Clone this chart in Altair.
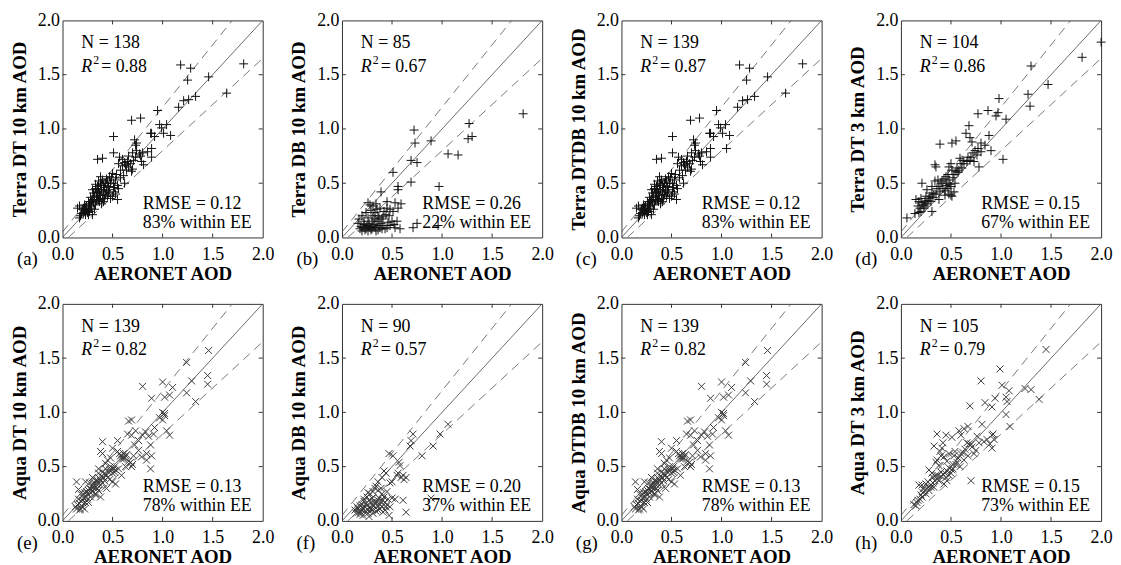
import altair as alt
import pandas as pd

FONT = "Liberation Serif"

# ---------------- panel texts ----------------
panel_letters = ["(a)", "(b)", "(c)", "(d)", "(e)", "(f)", "(g)", "(h)"]
y_titles = ["Terra DT 10 km AOD", "Terra DB 10 km AOD", "Terra DTDB 10 km AOD", "Terra DT 3 km AOD",
            "Aqua DT 10 km AOD", "Aqua DB 10 km AOD", "Aqua DTDB 10 km AOD", "Aqua DT 3 km AOD"]
x_title = "AERONET AOD"
n_values = [138, 85, 139, 104, 139, 90, 139, 105]
r2_values = ["0.88", "0.67", "0.87", "0.86", "0.82", "0.57", "0.82", "0.79"]
rmse_values = ["0.12", "0.26", "0.12", "0.15", "0.13", "0.20", "0.13", "0.15"]
within_values = ["83%", "22%", "83%", "67%", "78%", "37%", "78%", "73%"]
tick_values = [0.0, 0.5, 1.0, 1.5, 2.0]
inner_ticks = [0.5, 1.0, 1.5]

# reference lines (1:1 and expected error envelope +/-(0.05+0.15*AOD))
one_x = [0.0, 2.0]
one_y = [0.0, 2.0]
ee_up_x = [0.0, 1.6957]
ee_up_y = [0.05, 2.0]
ee_lo_x = [0.0588, 2.0]
ee_lo_y = [0.0, 1.65]

# ---------------- data (AERONET AOD, satellite AOD) ----------------
terra_dt = [
    (1.81,1.60),(1.18,1.59),(1.28,1.56),(1.25,1.45),(1.46,1.48),(1.64,1.33),(1.33,1.30),(1.26,1.27),
    (1.21,1.26),(1.16,1.20),(0.95,1.17),(0.69,1.08),(0.78,1.10),(0.97,1.04),(1.04,1.04),(1.01,0.96),
    (1.08,0.94),(0.89,0.96),(0.88,0.96),(0.51,0.93),(0.72,0.90),(0.73,0.85),(0.74,0.80),(0.77,0.77),
    (0.80,0.78),(0.89,0.82),(0.89,0.74),(0.79,0.70),(0.81,0.67),(0.71,0.71),(0.69,0.61),(0.73,0.74),
    (0.51,0.78),(0.35,0.72),(0.40,0.73),(0.57,0.74),(0.56,0.68),(0.60,0.66),(0.63,0.67),(0.66,0.65),
    (0.58,0.62),(0.62,0.50),(0.50,0.59),(0.49,0.55),(0.53,0.53),(0.55,0.48),(0.46,0.47),(0.43,0.50),
    (0.40,0.53),(0.36,0.52),(0.38,0.48),(0.33,0.45),(0.36,0.44),(0.41,0.42),(0.46,0.41),(0.51,0.42),
    (0.55,0.35),(0.50,0.38),(0.45,0.38),(0.40,0.36),(0.35,0.39),(0.31,0.41),(0.30,0.35),(0.36,0.35),
    (0.41,0.33),(0.26,0.33),(0.28,0.29),(0.23,0.27),(0.20,0.26),(0.17,0.29),(0.15,0.27),(0.17,0.18),
    (0.21,0.23),(0.25,0.23),(0.30,0.21),(0.26,0.26),(0.22,0.30),(0.33,0.30),
    (0.78,0.75),(0.65,0.70),(0.68,0.68),(0.62,0.69),(0.70,0.63),(0.64,0.62),(0.54,0.58),(0.47,0.56),
    (0.44,0.54),(0.48,0.50),(0.42,0.46),(0.39,0.44),(0.37,0.41),(0.34,0.42),(0.32,0.38),(0.38,0.39),
    (0.43,0.39),(0.47,0.44),(0.52,0.46),(0.39,0.50),(0.35,0.47),(0.33,0.49),(0.30,0.44),(0.28,0.37),
    (0.27,0.31),(0.24,0.29),(0.24,0.25),(0.22,0.25),(0.19,0.22),(0.23,0.21),(0.27,0.24),(0.29,0.27),
    (0.31,0.32),(0.34,0.34),(0.37,0.33),(0.39,0.31),(0.42,0.36),(0.44,0.43),(0.48,0.36),(0.53,0.40),
    (0.56,0.45),(0.58,0.55),(0.61,0.57),(0.60,0.72),(0.66,0.75),(0.70,0.78),(0.74,0.87),(0.85,0.79),
    (0.92,0.93),(0.99,1.01),(0.38,0.56),(0.34,0.37),(0.29,0.33),(0.26,0.21),(0.21,0.27),(0.18,0.20),
    (0.32,0.26),(0.45,0.52),(0.51,0.50),(0.41,0.48),
]

terra_db = [
    (1.81,1.14),(1.27,1.05),(1.30,0.93),(1.26,0.91),(0.72,0.99),(0.73,0.87),(0.89,0.89),(0.69,0.71),
    (0.75,0.69),(1.06,0.77),(1.16,0.76),(0.51,0.60),(0.69,0.51),(0.56,0.47),(0.56,0.44),(0.97,0.47),
    (0.39,0.42),(0.45,0.33),(0.26,0.32),(0.31,0.29),(0.35,0.26),(0.38,0.27),(0.45,0.27),(0.53,0.32),
    (0.59,0.31),(0.56,0.27),(0.48,0.26),(0.24,0.23),(0.20,0.20),(0.17,0.17),(0.31,0.20),(0.36,0.20),
    (0.30,0.15),(0.35,0.15),(0.40,0.17),(0.50,0.15),(0.55,0.15),(0.46,0.14),(0.25,0.11),(0.21,0.09),
    (0.18,0.08),(0.23,0.07),(0.28,0.09),(0.33,0.09),(0.40,0.08),(0.43,0.08),(0.48,0.11),(0.58,0.08),
    (0.71,0.09),(0.75,0.13),(0.96,0.11),(0.26,0.06),(0.36,0.07),(0.53,0.09),
    (0.29,0.25),(0.33,0.23),(0.34,0.31),(0.28,0.30),(0.42,0.24),(0.44,0.21),(0.47,0.20),(0.51,0.24),
    (0.39,0.13),(0.37,0.11),(0.32,0.12),(0.27,0.13),(0.22,0.12),(0.19,0.10),(0.24,0.08),(0.29,0.07),
    (0.31,0.10),(0.34,0.06),(0.38,0.09),(0.41,0.11),(0.45,0.09),(0.22,0.15),(0.16,0.13),(0.26,0.18),
    (0.33,0.17),(0.37,0.18),(0.41,0.19),(0.52,0.12),(0.30,0.08),(0.20,0.06),(0.27,0.10),
]

terra_dtdb = terra_dt + [(1.05, 0.82)]

terra_dt3k = [
    (2.00,1.80),(1.81,1.66),(1.30,1.58),(1.47,1.41),(1.27,1.32),(1.29,1.21),(0.98,1.28),(0.97,1.15),
    (0.95,1.12),(1.05,1.09),(0.87,1.17),(0.77,1.14),(0.68,1.03),(0.65,0.96),(0.69,0.92),(0.88,0.94),
    (0.80,0.87),(0.39,0.86),(0.51,0.87),(0.55,0.89),(1.02,0.72),(0.74,0.80),(0.77,0.82),(0.76,0.76),
    (0.90,0.80),(0.78,0.65),(0.69,0.71),(0.66,0.70),(0.63,0.68),(0.59,0.73),(0.35,0.65),(0.34,0.67),
    (0.51,0.62),(0.50,0.68),(0.48,0.65),(0.55,0.61),(0.58,0.62),(0.45,0.56),(0.48,0.53),(0.41,0.52),
    (0.34,0.52),(0.21,0.50),(0.31,0.47),(0.38,0.47),(0.45,0.48),(0.50,0.47),(0.53,0.42),(0.51,0.38),
    (0.50,0.39),(0.38,0.35),(0.31,0.41),(0.28,0.36),(0.25,0.38),(0.20,0.36),(0.18,0.33),(0.21,0.32),
    (0.17,0.29),(0.23,0.27),(0.18,0.23),(0.31,0.24),(0.06,0.18),(0.15,0.35),(0.26,0.44),
    (0.72,0.78),(0.70,0.74),(0.61,0.64),(0.57,0.60),(0.53,0.58),(0.46,0.50),(0.43,0.54),(0.40,0.50),
    (0.42,0.45),(0.44,0.43),(0.47,0.45),(0.49,0.49),(0.52,0.55),(0.36,0.45),(0.33,0.40),(0.29,0.38),
    (0.27,0.34),(0.24,0.33),(0.22,0.30),(0.19,0.27),(0.20,0.24),(0.24,0.29),(0.26,0.31),(0.30,0.33),
    (0.32,0.37),(0.35,0.40),(0.39,0.42),(0.37,0.53),(0.47,0.58),(0.54,0.50),(0.48,0.40),(0.44,0.39),
    (0.56,0.64),(0.62,0.71),(0.67,0.74),(0.73,0.70),(0.80,0.79),(0.84,0.85),(0.71,0.88),(0.60,0.68),
    (0.14,0.22),
]

aqua_dt = [
    (1.46,1.57),(1.24,1.46),(1.45,1.34),(1.29,1.29),(1.45,1.26),(1.00,1.28),(1.10,1.23),(0.80,1.24),
    (0.89,1.13),(1.02,1.14),(1.07,1.16),(1.24,1.18),(1.33,1.10),(1.02,0.99),(1.00,0.93),(1.02,0.97),
    (0.69,0.93),(0.66,0.92),(1.04,0.83),(1.07,0.79),(0.91,0.80),(0.83,0.82),(0.80,0.79),(0.73,0.83),
    (0.69,0.79),(0.65,0.80),(0.72,0.70),(0.76,0.74),(0.88,0.70),(0.84,0.62),(0.79,0.59),(0.84,0.56),
    (0.89,0.60),(0.88,0.48),(0.76,0.65),(0.71,0.60),(0.68,0.54),(0.63,0.50),(0.59,0.42),(0.56,0.48),
    (0.40,0.73),(0.38,0.64),(0.40,0.62),(0.55,0.74),(0.50,0.67),(0.55,0.64),(0.58,0.60),(0.60,0.59),
    (0.61,0.57),(0.64,0.61),(0.45,0.56),(0.48,0.50),(0.51,0.48),(0.53,0.47),(0.50,0.44),(0.43,0.48),
    (0.53,0.34),(0.50,0.36),(0.41,0.40),(0.38,0.37),(0.36,0.44),(0.33,0.37),(0.31,0.34),(0.35,0.33),
    (0.30,0.31),(0.26,0.28),(0.25,0.25),(0.21,0.24),(0.18,0.25),(0.16,0.29),(0.14,0.36),(0.23,0.36),
    (0.20,0.19),(0.23,0.17),(0.26,0.17),(0.17,0.16),(0.13,0.13),(0.18,0.11),(0.22,0.11),(0.28,0.22),
    (0.33,0.25),(0.38,0.22),(0.36,0.28),
    (0.92,0.86),(0.97,0.95),(1.00,1.00),(0.86,0.78),(0.61,0.62),(0.62,0.58),(0.59,0.57),(0.57,0.62),
    (0.63,0.60),(0.66,0.55),(0.70,0.52),(0.69,0.50),(0.47,0.47),(0.46,0.45),(0.49,0.47),(0.52,0.45),
    (0.44,0.42),(0.42,0.44),(0.40,0.45),(0.39,0.41),(0.37,0.39),(0.35,0.36),(0.34,0.38),(0.32,0.35),
    (0.30,0.33),(0.29,0.29),(0.27,0.30),(0.28,0.26),(0.24,0.27),(0.22,0.26),(0.24,0.22),(0.21,0.21),
    (0.19,0.18),(0.16,0.20),(0.15,0.15),(0.19,0.14),(0.14,0.11),(0.20,0.13),(0.25,0.20),(0.30,0.27),
    (0.32,0.30),(0.35,0.30),(0.38,0.33),(0.42,0.37),(0.45,0.40),(0.47,0.38),(0.30,0.40),(0.27,0.35),
    (0.43,0.53),(0.48,0.58),(0.52,0.50),(0.36,0.48),(0.40,0.35),(0.44,0.30),(0.33,0.24),(0.17,0.10),
]

aqua_db = [
    (1.06,0.89),(0.98,0.80),(0.91,0.69),(0.80,0.60),(0.71,0.80),(0.69,0.74),(0.68,0.69),(0.47,0.62),
    (0.51,0.60),(0.57,0.54),(0.58,0.51),(0.61,0.42),(0.56,0.44),(0.64,0.40),(0.50,0.36),(0.44,0.44),
    (0.40,0.40),(0.42,0.46),(0.36,0.36),(0.33,0.30),(0.36,0.28),(0.61,0.19),(0.64,0.08),(0.89,0.21),
    (0.47,0.05),(0.50,0.21),(0.48,0.13),(0.43,0.17),(0.40,0.25),(0.36,0.19),(0.33,0.16),(0.30,0.21),
    (0.25,0.22),(0.23,0.13),(0.20,0.10),(0.17,0.08),(0.13,0.10),(0.15,0.13),(0.18,0.14),(0.26,0.10),
    (0.30,0.10),(0.36,0.10),(0.40,0.13),(0.43,0.10),(0.26,0.07),(0.21,0.05),(0.31,0.14),(0.36,0.14),
    (0.41,0.19),(0.28,0.25),
    (0.55,0.42),(0.59,0.40),(0.62,0.38),(0.53,0.20),(0.46,0.20),(0.45,0.15),(0.42,0.22),(0.39,0.18),
    (0.38,0.15),(0.35,0.17),(0.34,0.12),(0.32,0.18),(0.29,0.17),(0.28,0.13),(0.27,0.19),(0.24,0.16),
    (0.22,0.18),(0.21,0.12),(0.19,0.08),(0.16,0.11),(0.14,0.07),(0.18,0.06),(0.23,0.09),(0.25,0.14),
    (0.29,0.11),(0.31,0.07),(0.34,0.09),(0.38,0.11),(0.41,0.08),(0.44,0.13),(0.37,0.21),(0.34,0.32),
    (0.31,0.27),(0.26,0.26),(0.22,0.20),(0.45,0.27),(0.39,0.30),(0.48,0.35),(0.20,0.15),(0.27,0.04),
]

aqua_dtdb = list(aqua_dt)

aqua_dt3k = [
    (1.45,1.58),(0.99,1.40),(0.80,1.29),(1.01,1.25),(1.08,1.20),(1.24,1.22),(1.30,1.21),(1.38,1.12),
    (0.94,1.13),(1.05,1.14),(1.06,1.10),(0.84,1.09),(0.91,1.05),(0.69,1.06),(1.05,0.98),(1.09,0.87),
    (0.81,0.89),(0.67,0.87),(0.63,0.85),(0.58,0.83),(0.51,0.77),(0.45,0.79),(0.36,0.80),(0.76,0.78),
    (0.91,0.79),(0.93,0.75),(0.89,0.71),(0.91,0.67),(0.83,0.73),(0.68,0.71),(0.71,0.68),(0.73,0.62),
    (0.67,0.60),(0.63,0.56),(0.53,0.60),(0.56,0.54),(0.59,0.50),(0.51,0.47),(0.50,0.44),(0.45,0.40),
    (0.33,0.69),(0.41,0.67),(0.40,0.60),(0.43,0.59),(0.35,0.54),(0.38,0.51),(0.40,0.45),(0.35,0.42),
    (0.31,0.44),(0.28,0.47),(0.43,0.34),(0.46,0.37),(0.38,0.37),(0.33,0.31),(0.30,0.33),(0.25,0.34),
    (0.21,0.33),(0.18,0.33),(0.23,0.30),(0.28,0.28),(0.25,0.25),(0.21,0.22),(0.17,0.19),(0.13,0.15),
    (0.15,0.14),(0.70,0.37),
    (0.66,0.72),(0.64,0.66),(0.60,0.62),(0.57,0.58),(0.55,0.52),(0.52,0.52),(0.48,0.49),(0.46,0.46),
    (0.44,0.44),(0.42,0.43),(0.40,0.41),(0.37,0.42),(0.36,0.39),(0.34,0.37),(0.32,0.35),(0.30,0.31),
    (0.27,0.31),(0.24,0.28),(0.22,0.26),(0.20,0.24),(0.19,0.20),(0.16,0.17),(0.27,0.36),(0.32,0.40),
    (0.36,0.56),(0.39,0.64),(0.42,0.72),(0.48,0.62),(0.46,0.55),(0.54,0.64),(0.60,0.79),(0.75,0.65),
    (0.78,0.72),(0.86,0.75),(0.92,0.80),(0.48,0.42),(0.52,0.48),(0.62,0.63),(0.70,0.71),
]

datasets = [terra_dt, terra_db, terra_dtdb, terra_dt3k, aqua_dt, aqua_db, aqua_dtdb, aqua_dt3k]

PLUS = "M-1,0L1,0M0,-1L0,1"
CROSS = "M-1,-1L1,1M-1,1L1,-1"

W, H = 202, 219


def make_panel(i):
    pts = pd.DataFrame(datasets[i], columns=["x", "y"])
    xs = alt.Scale(domain=[0, 2], nice=False, zero=False)
    ys = alt.Scale(domain=[0, 2], nice=False, zero=False)
    X = alt.X("x:Q", scale=xs, axis=alt.Axis(
        title=x_title, values=tick_values, format=".1f", labelFlush=False, labelOverlap=False,
        ticks=False, tickSize=0, domain=False, grid=False, labelPadding=8, titlePadding=1,
        labelFont=FONT, labelFontSize=18, labelColor="black",
        titleFont=FONT, titleFontSize=19, titleFontWeight="bold", titleColor="black"))
    Y = alt.Y("y:Q", scale=ys, axis=alt.Axis(
        title=y_titles[i], values=tick_values, format=".1f", labelFlush=False, labelOverlap=False,
        ticks=False, tickSize=0, domain=False, grid=False, labelPadding=3, titlePadding=8,
        labelFont=FONT, labelFontSize=18, labelColor="black",
        titleFont=FONT, titleFontSize=19, titleFontWeight="bold", titleColor="black"))

    top_row = i < 4
    shape = PLUS if top_row else CROSS
    size = 81 if top_row else 49
    color = "#111111" if top_row else "#3a3a3a"

    points = alt.Chart(pts).mark_point(shape=shape, filled=False, size=size, strokeWidth=1,
                                       color=color, opacity=1).encode(x=X, y=Y)
    one = alt.Chart(pd.DataFrame({"x": one_x, "y": one_y})).mark_line(
        color="#444444", strokeWidth=0.8, clip=True).encode(x=X, y=Y)
    up = alt.Chart(pd.DataFrame({"x": ee_up_x, "y": ee_up_y})).mark_line(
        color="#555555", strokeWidth=0.8, strokeDash=[9, 6], clip=True).encode(x=X, y=Y)
    lo = alt.Chart(pd.DataFrame({"x": ee_lo_x, "y": ee_lo_y})).mark_line(
        color="#555555", strokeWidth=0.8, strokeDash=[9, 6], clip=True).encode(x=X, y=Y)

    tx = pd.DataFrame({"x": inner_ticks})
    ty = pd.DataFrame({"y": inner_ticks})
    tick_style = dict(color="#333333", strokeWidth=1)
    tb = alt.Chart(tx).mark_rule(**tick_style).encode(x=X, y=alt.value(H), y2=alt.value(H - 4))
    tt = alt.Chart(tx).mark_rule(**tick_style).encode(x=X, y=alt.value(0), y2=alt.value(4))
    tl = alt.Chart(ty).mark_rule(**tick_style).encode(y=Y, x=alt.value(0), x2=alt.value(4))
    tr = alt.Chart(ty).mark_rule(**tick_style).encode(y=Y, x=alt.value(W), x2=alt.value(W - 4))

    def txt(s, x, y, size=18, style="normal", baseline="alphabetic"):
        return alt.Chart(pd.DataFrame({"t": [s]})).mark_text(
            align="left", baseline=baseline, font=FONT, fontSize=size, fontStyle=style,
            color="black").encode(x=alt.value(x), y=alt.value(y), text="t:N")

    texts = [
        txt(f"N = {n_values[i]}", 19, 28),
        txt("R", 19, 52, style="italic"),
        txt("2", 31, 44, size=12),
        txt(f"= {r2_values[i]}", 39, 52),
        txt(f"RMSE = {rmse_values[i]}", 81, 190),
        txt(f"{within_values[i]} within EE", 81, 209),
        txt(panel_letters[i], -46, H + 22, size=19, baseline="middle"),
    ]

    return alt.layer(one, up, lo, tb, tt, tl, tr, points, *texts).properties(width=W, height=H)


panels = [make_panel(i) for i in range(8)]
row1 = alt.hconcat(*panels[:4], spacing=15)
row2 = alt.hconcat(*panels[4:], spacing=15)

chart = alt.vconcat(row1, row2, spacing=10).properties(
    padding={"left": 2, "top": 0, "right": 0, "bottom": 0},
    background="white"
).configure_view(
    stroke="#333333", strokeWidth=1
)

chart.save("out.html", embed_options={"renderer": "svg", "actions": False})
